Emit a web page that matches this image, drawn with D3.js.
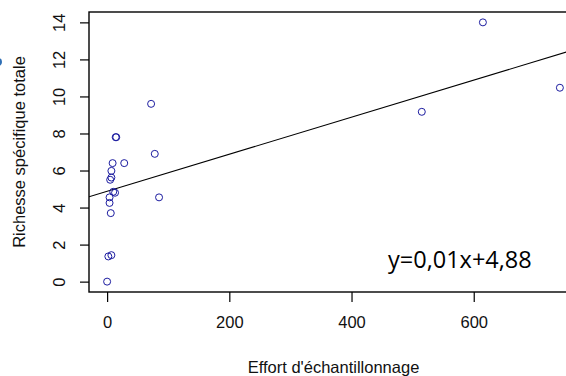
<!DOCTYPE html>
<html>
<head>
<meta charset="utf-8">
<script src="https://cdn.jsdelivr.net/npm/d3@7"></script>
<style>
  body { margin: 0; background: #fff; }
  svg { display: block; }
</style>
</head>
<body>
<div id="content"></div>
<script>
(function(){

  // sampling effort (x) and total species richness (y)
  var effort   = [0, 2, 7, 6, 4, 4, 10, 13, 5, 7, 7, 9, 28, 14, 15, 72, 78, 85, 515, 615, 741];
  var richness = [0, 1.36, 1.43, 3.7, 4.25, 4.55, 4.85, 4.8, 5.5, 5.62, 5.98, 6.4, 6.4, 7.8, 7.8, 9.6, 6.9, 4.55, 9.17, 14.0, 10.47];

  var xTicks = [0, 200, 400, 600];
  var yTicks = [0, 2, 4, 6, 8, 10, 12, 14];

  // fitted line shown on chart
  var slope = 0.01, intercept = 4.88;
  var eqLabel = "y=0,01x+4,88";

  var width = 566, height = 376;

  var svg = d3.select("#content").append("svg")
      .attr("width", width)
      .attr("height", height);

  // R style 4% padding on the data range
  var xs = d3.extent(effort), ys = [0, 14];
  var xp = (xs[1] - xs[0]) * 0.04, yp = (ys[1] - ys[0]) * 0.04;

  var left = 89, right = 578, top = 12, bottom = 292;

  var x = d3.scaleLinear().domain([xs[0] - xp, xs[1] + xp]).range([left, right]);
  var y = d3.scaleLinear().domain([ys[0] - yp, ys[1] + yp]).range([bottom, top]);

  var font = "'Liberation Sans', Arial, sans-serif";

  // regression line clipped to the box
  svg.append("clipPath").attr("id", "plotClip")
    .append("rect")
      .attr("x", left).attr("y", top)
      .attr("width", right - left).attr("height", bottom - top);

  var dom = x.domain();
  svg.append("line")
      .attr("clip-path", "url(#plotClip)")
      .attr("x1", x(dom[0])).attr("y1", y(intercept + slope * dom[0]))
      .attr("x2", x(dom[1])).attr("y2", y(intercept + slope * dom[1]))
      .style("stroke", "#000")
      .style("stroke-width", 1.1);

  // points
  svg.selectAll(".point")
      .data(effort)
    .enter().append("circle")
      .attr("class", "point")
      .attr("cx", function(d) { return x(d); })
      .attr("cy", function(d, i) { return y(richness[i]); })
      .attr("r", 3.5)
      .style("fill", "none")
      .style("stroke", "#1c1ca0")
      .style("stroke-width", 1);

  // box
  svg.append("rect")
      .attr("x", left).attr("y", top)
      .attr("width", right - left).attr("height", bottom - top)
      .style("fill", "none")
      .style("stroke", "#000")
      .style("stroke-width", 1.4);

  // x axis
  var xAxis = svg.append("g")
      .attr("transform", "translate(0," + bottom + ")")
      .call(d3.axisBottom(x).tickValues(xTicks).tickSize(10).tickPadding(14));
  xAxis.select(".domain").remove();
  xAxis.selectAll("line").style("stroke", "#000").style("stroke-width", 1.2);
  xAxis.selectAll("text")
      .style("font-family", font)
      .style("font-size", "16.5px")
      .style("fill", "#111");

  // y axis, labels rotated like R
  var yAxis = svg.append("g")
      .attr("transform", "translate(" + left + ",0)")
      .call(d3.axisLeft(y).tickValues(yTicks).tickSize(9));
  yAxis.select(".domain").remove();
  yAxis.selectAll("line").style("stroke", "#000").style("stroke-width", 1.2);
  yAxis.selectAll("text")
      .attr("x", null).attr("dy", null)
      .attr("text-anchor", "middle")
      .attr("transform", "translate(-30,0) rotate(-90)")
      .attr("dy", "0.35em")
      .style("font-family", font)
      .style("font-size", "16.5px")
      .style("fill", "#111");

  // axis titles
  svg.append("text")
      .attr("x", (left + right) / 2)
      .attr("y", 373)
      .attr("text-anchor", "middle")
      .style("font-family", font)
      .style("font-size", "16.5px")
      .style("fill", "#111")
      .text("Effort d'échantillonnage");

  svg.append("text")
      .attr("transform", "translate(25," + ((top + bottom) / 2) + ") rotate(-90)")
      .attr("text-anchor", "middle")
      .style("font-family", font)
      .style("font-size", "16.5px")
      .style("fill", "#111")
      .text("Richesse spécifique totale");

  // equation label
  svg.append("text")
      .attr("x", 388)
      .attr("y", 268)
      .style("font-family", "'Open Sans', sans-serif")
      .style("font-size", "23.5px")
      .style("fill", "#000")
      .text(eqLabel);

  // small blue mark cut at the left edge
  svg.append("circle")
      .attr("cx", -2).attr("cy", 62).attr("r", 4)
      .style("fill", "#2f6fb5");

})();
</script>
</body>
</html>
